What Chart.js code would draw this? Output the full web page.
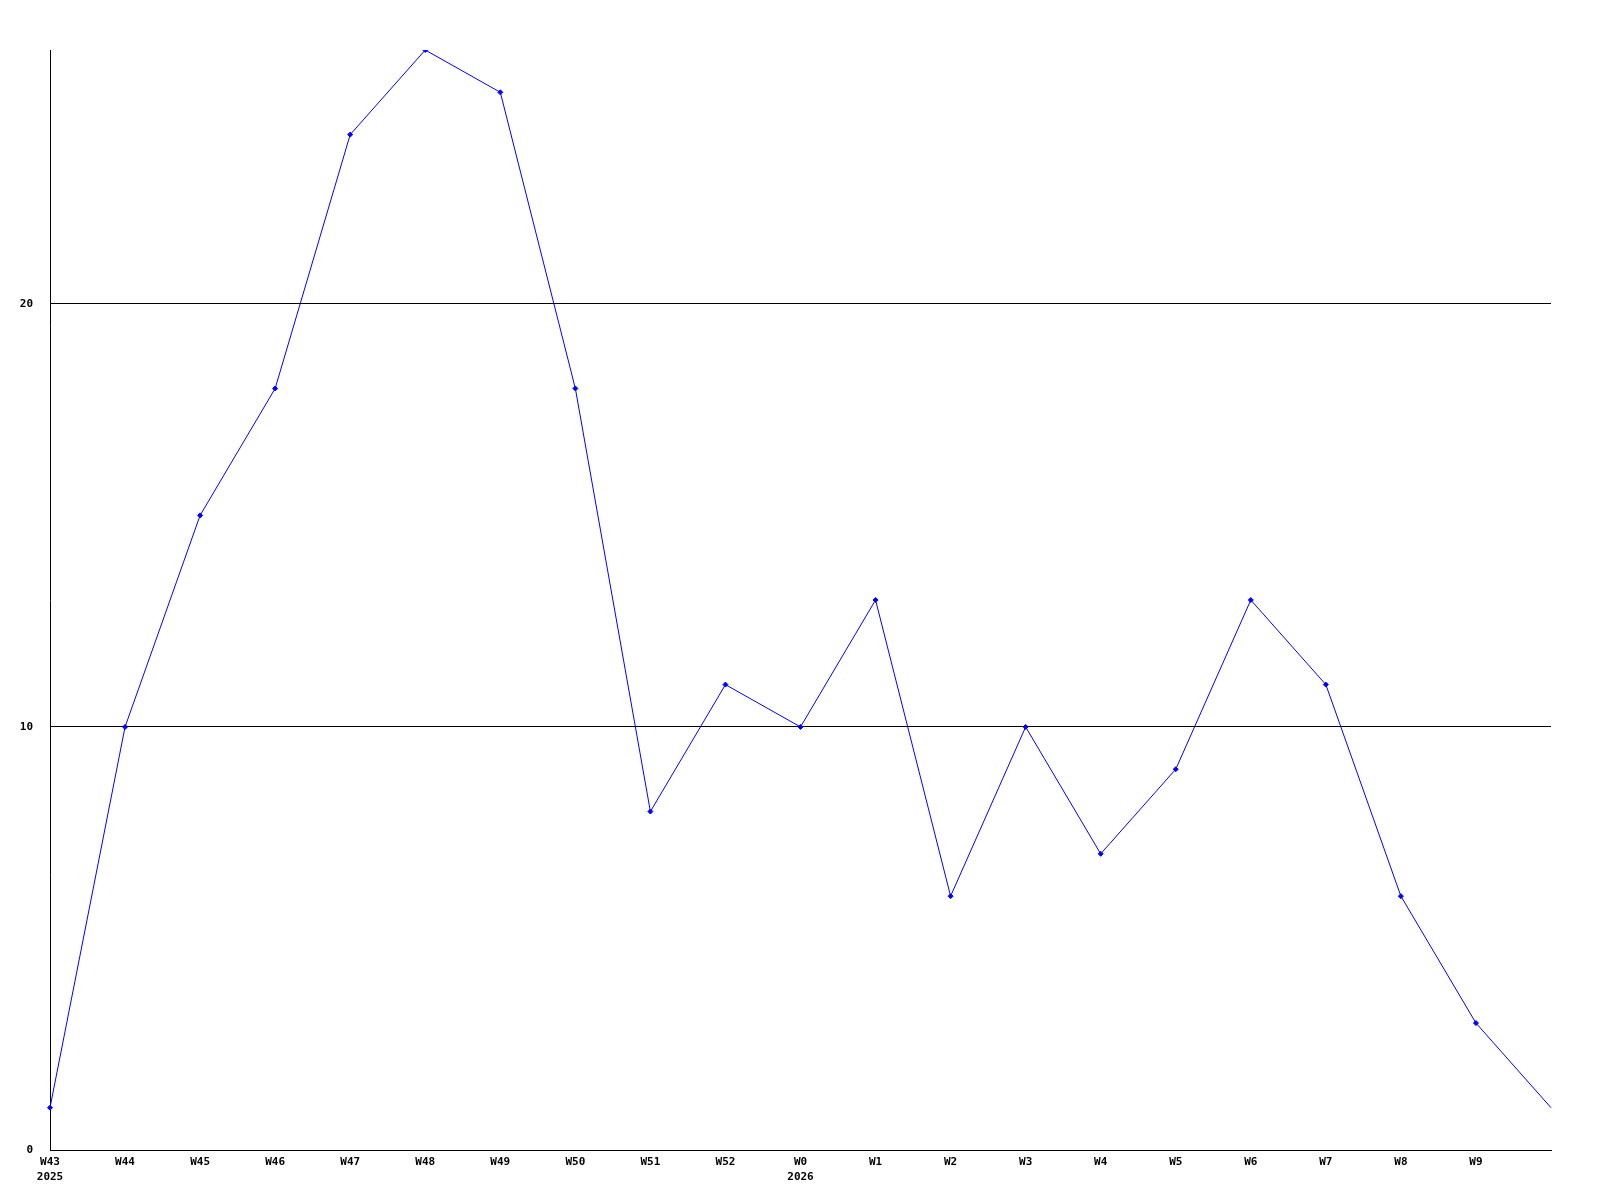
<!DOCTYPE html>
<html>
<head>
<meta charset="utf-8">
<script src="https://cdn.jsdelivr.net/npm/chart.js@4/dist/chart.umd.min.js"></script>
<style>
    html, body { margin: 0; padding: 0; background: #fff; }
    #wrap { width: 1600px; height: 1200px; }
</style>
</head>
<body>
<div id="wrap"><canvas id="chart"></canvas></div>
<script>
// weekly labels (last point has no label)
var weeks = [["W43", "2025"], "W44", "W45", "W46", "W47", "W48", "W49", "W50", "W51", "W52",
    ["W0", "2026"], "W1", "W2", "W3", "W4", "W5", "W6", "W7", "W8", "W9", ""];
var counts = [1, 10, 15, 18, 24, 26, 25, 18, 8, 11, 10, 13, 6, 10, 7, 9, 13, 11, 6, 3, 1];
var yMax = 26;
var yStep = 10;

var tickFont = { family: "'DejaVu Sans Mono', monospace", size: 11, weight: "bold", lineHeight: 1.36 };

new Chart("chart", {
    type: "line",
    data: {
        labels: weeks,
        datasets: [{
            data: counts,
            borderColor: "#0000ff",
            backgroundColor: "#0000ff",
            borderWidth: 1,
            // the last point is drawn without a marker
            pointRadius: function (ctx) { return ctx.dataIndex === counts.length - 1 ? 0 : 2.5; },
            pointStyle: "rectRot",
            tension: 0
        }]
    },
    options: {
        responsive: true,
        maintainAspectRatio: false,
        animation: false,
        layout: { padding: { top: 50, right: 49, left: 0, bottom: 0 } },
        plugins: {
            legend: { display: false },
            tooltip: { enabled: false }
        },
        scales: {
            x: {
                offset: false,
                grid: { display: false, drawTicks: false },
                border: { display: true, color: "#000", width: 1 },
                ticks: {
                    color: "#000",
                    font: tickFont,
                    autoSkip: false,
                    maxRotation: 0,
                    padding: 5
                },
                afterFit: function (scale) { scale.height = 50; }
            },
            y: {
                min: 0,
                max: yMax,
                grid: { color: "#000", lineWidth: 1, drawTicks: false },
                border: { display: true, color: "#000", width: 1 },
                ticks: {
                    stepSize: yStep,
                    includeBounds: false,
                    color: "#000",
                    font: tickFont,
                    padding: 17
                },
                afterFit: function (scale) { scale.width = 50; }
            }
        }
    }
});
</script>
</body>
</html>
